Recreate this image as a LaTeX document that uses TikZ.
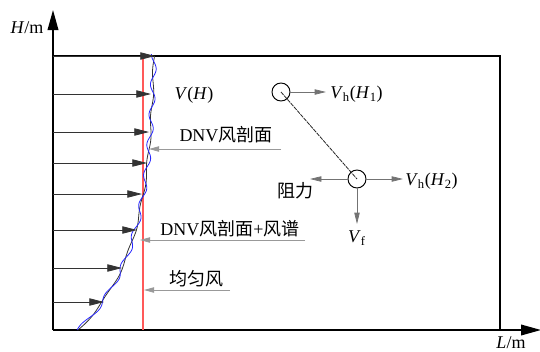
\documentclass[tikz,border=0pt]{standalone}
\usepackage{fontspec}
\setmainfont{Liberation Serif}
\newfontfamily\cjk{Noto Sans CJK SC}
\usetikzlibrary{arrows.meta}
\begin{document}
\begin{tikzpicture}[x=0.75pt,y=-0.75pt,
  axisline/.style={line width=1.1pt,-{Triangle[length=15pt,width=8pt]}},
  framel/.style={line width=0.8pt},
  windarrow/.style={draw=black!80,line width=0.6pt,-{Triangle[length=11pt,width=5.5pt]}},
  pointer/.style={draw=black!40,line width=0.6pt,-{Triangle[length=7.5pt,width=4pt]}},
  forcearrow/.style={draw=black!55,line width=0.5pt,-{Triangle[length=8.5pt,width=4pt]}},
  lbl/.style={font=\fontsize{13.5pt}{15pt}\selectfont,inner sep=0pt},
  ball/.style={circle,draw,line width=0.7pt,minimum size=13.5pt,inner sep=0pt}]
\useasboundingbox (0,0) rectangle (540,351);
% axes and frame
\coordinate (O) at (53,330);
\coordinate (Ytip) at (53,10);
\coordinate (Xtip) at (541,330);
\coordinate (TL) at (53,56);
\coordinate (TR) at (500,56);
\coordinate (BR) at (500,330);
\draw[framel] (TL) -- (TR) -- (BR);
\draw[axisline] (O) -- (Ytip);
\draw[axisline] (O) -- (Xtip);
\node[lbl] (Hlab) at (27,28) {\textit{H}/m};
\node[lbl] (Llab) at (511,343) {\textit{L}/m};
% uniform wind (red line)
\coordinate (R1) at (143,56);
\coordinate (R2) at (143,330);
\draw[color=red!65,line width=0.8pt] (R1) -- (R2);
% DNV profile (black) and profile + spectrum (blue)
\draw[black!80,line width=0.6pt] plot[domain=0:274,samples=220,variable=\h]
  ({78+78*(1-exp(-\h/75))+1.0*sin(\h*8)},{330-\h});
\draw[blue!85,line width=0.6pt] plot[domain=0:276,samples=300,variable=\h]
  ({78+78*(1-exp(-\h/75))+2.6*sin(\h*12+200)},{330-\h});
% wind arrows
\foreach \yy/\xx [count=\i] in {56/155,94/151,132/149,163/147,194/142,230/137,268/122,302/104}{
  \coordinate (a\i) at (53,\yy);
  \coordinate (b\i) at (\xx,\yy);
  \draw[windarrow] (a\i) -- (b\i);
}
% labels with pointers
\node[lbl] (VH) at (194,95) {\textit{V}(\textit{H})};
\node[lbl,anchor=base] (dnv) at (226,141) {DNV{\cjk 风剖面}};
\coordinate (dnvS) at (281,149);
\coordinate (dnvT) at (149,149);
\draw[pointer] (dnvS) -- (dnvT);
\node[lbl,anchor=base] (dnvs) at (230,235) {DNV{\cjk 风剖面}+{\cjk 风谱}};
\coordinate (dnvsS) at (305,240);
\coordinate (dnvsT) at (140,240);
\draw[pointer] (dnvsS) -- (dnvsT);
\node[lbl,anchor=base] (unif) at (196,285) {\cjk 均匀风};
\coordinate (unS) at (230,290);
\coordinate (unT) at (144,290);
\draw[pointer] (unS) -- (unT);
% pendulum / balls
\node[ball] (c1) at (281,92) {};
\node[ball] (c2) at (357,179) {};
\draw[black!85,line width=0.6pt,dash pattern=on 3pt off 0.7pt] (c1.center) -- (c2.center);
\coordinate (t1) at (326,92);
\draw[forcearrow] (c1.east) -- (t1);
\node[lbl,anchor=west] (vh1) at (330,94) {\textit{V}\textsubscript{h}(\textit{H}\textsubscript{1})};
\coordinate (t2) at (403,179);
\draw[forcearrow] (c2.east) -- (t2);
\node[lbl,anchor=west] (vh2) at (405,181) {\textit{V}\textsubscript{h}(\textit{H}\textsubscript{2})};
\coordinate (t3) at (310,179);
\draw[forcearrow] (c2.west) -- (t3);
\node[lbl] (drag) at (295,191) {\cjk 阻力};
\coordinate (t4) at (357,224);
\draw[forcearrow] (c2.south) -- (t4);
\node[lbl] (vf) at (357,238) {\textit{V}\textsubscript{f}};
\end{tikzpicture}
\end{document}
